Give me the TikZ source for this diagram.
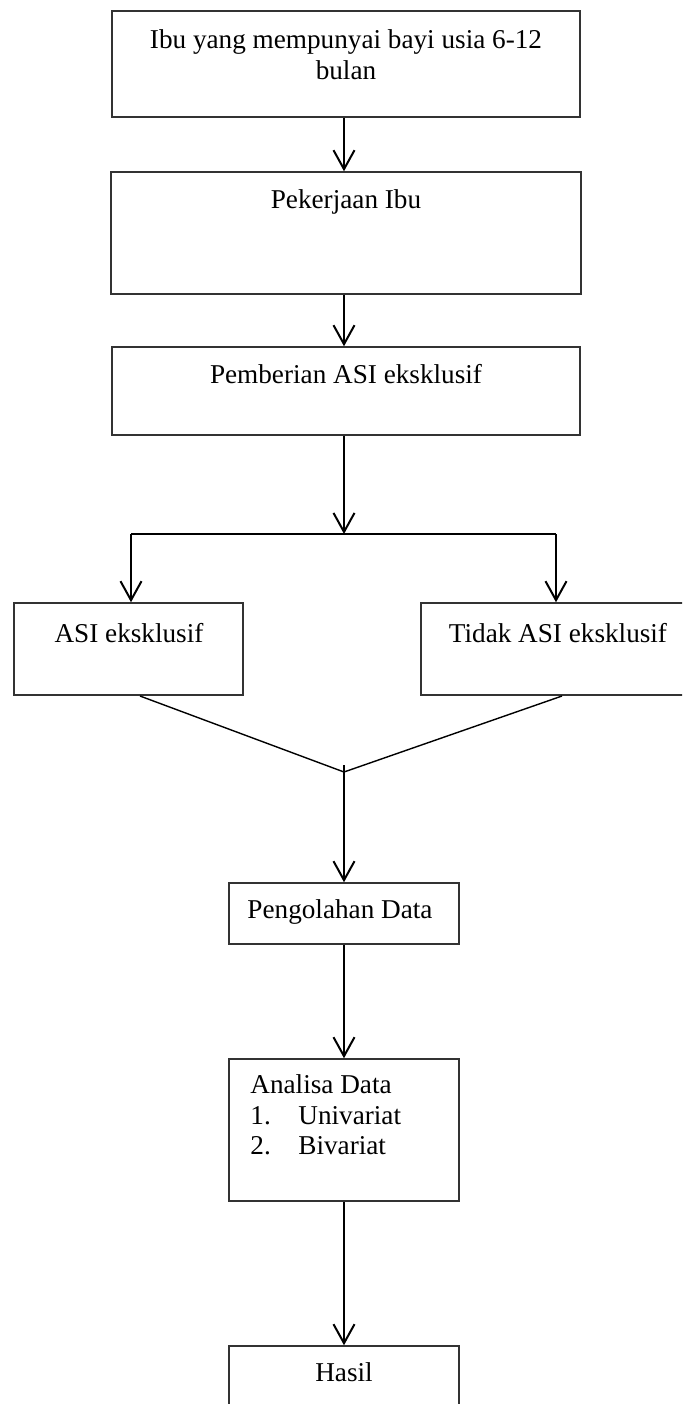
\documentclass[tikz,border=0pt]{standalone}
\usepackage{fontspec}
\setmainfont{Liberation Serif}
\usetikzlibrary{arrows.meta,fit}
\begin{document}
\begin{tikzpicture}[x=0.5pt,y=-0.5pt,
  box/.style={draw=black!80, line width=0.75pt, rectangle, inner sep=0pt},
  txt/.style={font=\fontsize{13.6}{15.4}\selectfont, inner sep=0pt},
  arr/.style={draw=black, line width=1pt, -{Straight Barb[length=9.5pt,width=10.5pt]}},
  bar/.style={draw=black, line width=1pt},
  ln/.style={draw=black, line width=0.7pt}]
\useasboundingbox (0,0) rectangle (682,1404);
\clip (0,0) rectangle (682,1404);

% boxes
\node[box, fit={(112,11) (580,117)}] (b1) {};
\node[box, fit={(111,172) (581,294)}] (b2) {};
\node[box, fit={(112,347) (580,435)}] (b3) {};
\node[box, fit={(14,603) (243,695)}] (asi) {};
\node[box, fit={(421,603) (692,695)}] (tidak) {};
\node[box, fit={(229,883) (459,944)}] (peng) {};
\node[box, fit={(229,1059) (459,1201)}] (ana) {};
\node[box, fit={(229,1346) (459,1440)}] (hasil) {};

% texts
\node[txt, align=center, anchor=center] (t1) at (346,54.5) {Ibu yang mempunyai bayi usia 6-12\\bulan};
\node[txt, anchor=base] (t2) at (346,208) {Pekerjaan Ibu};
\node[txt, anchor=base] (t3) at (346,383) {Pemberian ASI eksklusif};
\node[txt, anchor=base] (t4) at (129,642) {ASI eksklusif};
\node[txt, anchor=base] (t5) at (558,642) {Tidak ASI eksklusif};
\node[txt, anchor=base] (t6) at (340,918) {Pengolahan Data};
\node[txt, anchor=base west] (t7a) at (250,1093) {Analisa Data};
\node[txt, anchor=base west] (t7b) at (250,1124) {\makebox[24pt][l]{1.}Univariat};
\node[txt, anchor=base west] (t7c) at (250,1154) {\makebox[24pt][l]{2.}Bivariat};
\node[txt, anchor=base] (t8) at (344,1381) {Hasil};

% connectors
\coordinate (cx) at (344,0);
\coordinate (br) at (344,534);
\coordinate (brL) at (131,534);
\coordinate (brR) at (556,534);
\coordinate (mL) at (140,696);
\coordinate (mR) at (562,696);
\coordinate (m) at (344,772);
\coordinate (mtop) at (344,765);

\draw[arr] (b1.south -| cx) -- (b2.north -| cx);
\draw[arr] (b2.south -| cx) -- (b3.north -| cx);
\draw[arr] (b3.south -| cx) -- (br);
\draw[bar] (brL) -- (brR);
\draw[arr] (brL) -- (brL |- asi.north);
\draw[arr] (brR) -- (brR |- tidak.north);
\draw[ln] (mL) -- (m) -- (mR);
\draw[arr] (mtop) -- (peng.north -| cx);
\draw[arr] (peng.south -| cx) -- (ana.north -| cx);
\draw[arr] (ana.south -| cx) -- (hasil.north -| cx);
\end{tikzpicture}
\end{document}
